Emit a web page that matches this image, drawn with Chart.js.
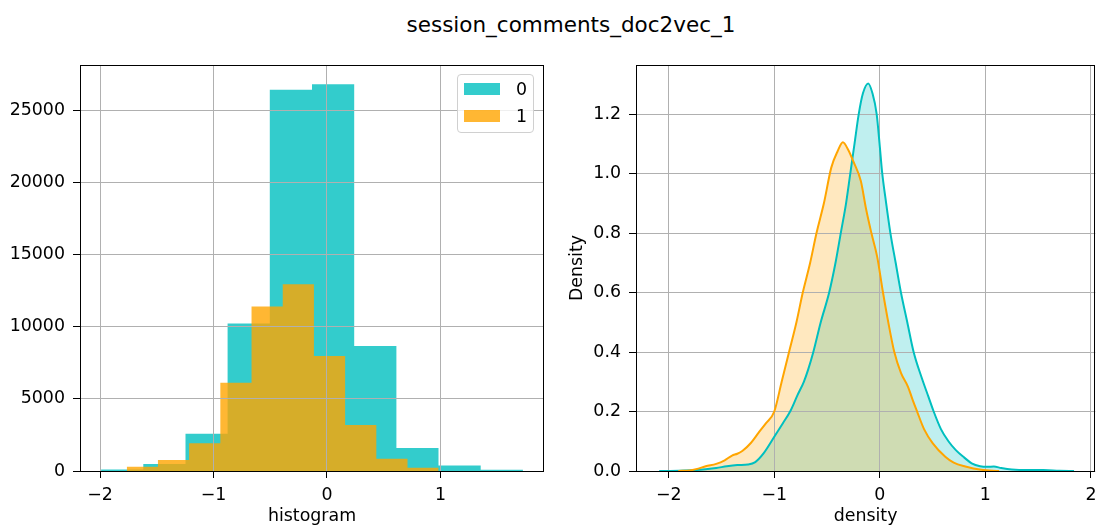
<!DOCTYPE html>
<html lang="en">
<head>
    <meta charset="UTF-8">
    <title>session_comments_doc2vec_1</title>
    <script src="https://cdn.jsdelivr.net/npm/chart.js@4.4.1/dist/chart.umd.min.js"></script>
    <style>
        body {
            margin: 0;
            background: #fff;
            font-family: 'DejaVu Sans', sans-serif;
        }
        #page {
            position: relative;
            width: 1104px;
            height: 529px;
            overflow: hidden;
        }
        #figTitle {
            position: absolute;
            left: 371px;
            width: 400px;
            top: 14px;
            text-align: center;
            font-size: 21.5px;
            line-height: 21px;
            color: #000;
        }
        canvas {
            position: absolute;
            top: 0;
        }
        #histChart { left: 0; }
        #densityChart { left: 552px; }
        #legend {
            position: absolute;
            left: 457px;
            top: 74px;
            width: 77px;
            height: 59px;
            border: 1px solid #d0d0d0;
            border-radius: 4px;
            background: rgba(255, 255, 255, 0.8);
            box-sizing: border-box;
        }
        .legend-row {
            position: absolute;
            left: 6px;
            height: 13px;
        }
        .legend-row span.swatch {
            position: absolute;
            left: 0;
            top: 0;
            width: 36px;
            height: 12px;
        }
        .legend-row span.label {
            position: absolute;
            left: 52px;
            top: -4px;
            font-size: 17.4px;
            line-height: 20px;
            color: #000;
        }
    </style>
</head>
<body>
<div id="page">
    <div id="figTitle">session_comments_doc2vec_1</div>
    <canvas id="histChart" width="552" height="529"></canvas>
    <canvas id="densityChart" width="552" height="529"></canvas>
    <div id="legend"></div>
</div>

<script>
    // Group labels and colours
    const groupLabels = ['0', '1'];
    const groupColors = ['rgb(0, 191, 191)', 'rgb(255, 165, 0)'];

    // Histogram bin edges and counts, one pair per group
    const binEdges0 = [-1.991, -1.619, -1.247, -0.876, -0.504, -0.132, 0.240, 0.612, 0.983, 1.355, 1.727];
    const binCounts0 = [100, 480, 2580, 10240, 26470, 26840, 8680, 1590, 390, 90];
    const binEdges1 = [-1.765, -1.490, -1.215, -0.940, -0.665, -0.390, -0.115, 0.160, 0.435, 0.710, 0.984];
    const binCounts1 = [300, 760, 1930, 6120, 11420, 12960, 7990, 3200, 850, 230];

    // Kernel density estimates per group
    const kdeX0 = [-2.09, -1.90, -1.75, -1.65, -1.55, -1.45, -1.35, -1.25, -1.18, -1.10, -1.00, -0.92, -0.85,
        -0.78, -0.72, -0.68, -0.63, -0.56, -0.48, -0.42, -0.37, -0.32, -0.28, -0.24, -0.20, -0.16, -0.11,
        -0.07, -0.03, 0.00, 0.02, 0.06, 0.10, 0.15, 0.20, 0.26, 0.32, 0.40, 0.46, 0.51, 0.58, 0.65, 0.72,
        0.80, 0.87, 0.95, 1.02, 1.08, 1.15, 1.25, 1.40, 1.55, 1.70, 1.84];
    const kdeY0 = [0.000, 0.001, 0.003, 0.006, 0.010, 0.016, 0.020, 0.022, 0.030, 0.060, 0.115, 0.160, 0.200,
        0.255, 0.300, 0.340, 0.400, 0.500, 0.600, 0.700, 0.800, 0.900, 1.000, 1.100, 1.200, 1.270, 1.303,
        1.270, 1.200, 1.090, 1.010, 0.900, 0.800, 0.700, 0.600, 0.500, 0.400, 0.310, 0.250, 0.200, 0.140,
        0.100, 0.070, 0.045, 0.026, 0.016, 0.014, 0.015, 0.010, 0.005, 0.003, 0.003, 0.001, 0.000];
    const kdeX1 = [-1.91, -1.80, -1.72, -1.65, -1.55, -1.47, -1.40, -1.35, -1.30, -1.22, -1.15, -1.08, -1.00,
        -0.93, -0.86, -0.79, -0.73, -0.66, -0.60, -0.53, -0.46, -0.40, -0.35, -0.30, -0.25, -0.18, -0.13,
        -0.08, -0.025, 0.03, 0.08, 0.137, 0.20, 0.267, 0.31, 0.353, 0.42, 0.50, 0.62, 0.70, 0.81, 0.96, 1.13];
    const kdeY1 = [0.000, 0.002, 0.008, 0.016, 0.024, 0.036, 0.052, 0.058, 0.068, 0.095, 0.128, 0.160, 0.200,
        0.300, 0.400, 0.500, 0.600, 0.700, 0.800, 0.900, 1.020, 1.075, 1.105, 1.080, 1.040, 0.975, 0.880,
        0.800, 0.720, 0.600, 0.500, 0.400, 0.330, 0.283, 0.240, 0.200, 0.140, 0.094, 0.048, 0.028, 0.015,
        0.004, 0.000];

    // Tick values
    const histXTicks = [-2, -1, 0, 1];
    const histYTicks = [0, 5000, 10000, 15000, 20000, 25000];
    const densityXTicks = [-2, -1, 0, 1, 2];
    const densityYTicks = [0, 0.2, 0.4, 0.6, 0.8, 1.0, 1.2];

    const tickFont = { family: 'DejaVu Sans', size: 17.4 };
    const minus = v => String(v).replace('-', '\u2212');

    function withAlpha(rgb, a) {
        return rgb.replace('rgb(', 'rgba(').replace(')', ', ' + a + ')');
    }

    // Step outline of a histogram: each bar holds its count up to the next edge
    function histPoints(edges, counts) {
        const pts = counts.map((c, i) => ({ x: edges[i], y: c }));
        pts.push({ x: edges[edges.length - 1], y: 0 });
        return pts;
    }

    function kdePoints(xs, ys) {
        return xs.map((x, i) => ({ x: x, y: ys[i] }));
    }

    // Grid goes over the filled areas, the frame over everything
    const gridAndFrame = {
        id: 'gridAndFrame',
        beforeDatasetsDraw(chart) {
            chart.scales.x.drawGrid(chart.chartArea);
            chart.scales.y.drawGrid(chart.chartArea);
        },
        afterDatasetsDraw(chart) {
            const { ctx, chartArea: a } = chart;
            ctx.save();
            ctx.strokeStyle = '#000';
            ctx.lineWidth = 1;
            ctx.strokeRect(Math.round(a.left) + 0.5, Math.round(a.top) + 0.5,
                Math.round(a.right - a.left) - 1, Math.round(a.bottom - a.top));
            ctx.restore();
        }
    };

    function axis(min, max, tickValues, fmt, size, isX, title) {
        return {
            type: 'linear',
            min: min,
            max: max,
            afterBuildTicks: s => { s.ticks = tickValues.map(v => ({ value: v })); },
            afterFit: s => { if (isX) { s.height = size; } else { s.width = size; } },
            ticks: {
                color: '#000',
                font: tickFont,
                padding: isX ? 7.5 : 8,
                maxRotation: 0,
                autoSkip: false,
                callback: fmt
            },
            grid: {
                color: '#b0b0b0',
                lineWidth: 1,
                tickLength: 7,
                tickColor: '#000',
                tickWidth: 1
            },
            border: { display: false },
            title: title
        };
    }

    function baseOptions(scales, padRight) {
        return {
            responsive: false,
            animation: false,
            devicePixelRatio: 1,
            layout: { padding: { top: 65, right: padRight, bottom: 0, left: 0 } },
            plugins: {
                legend: { display: false },
                tooltip: { enabled: false },
                filler: { drawTime: 'beforeDatasetsDraw' }
            },
            elements: { point: { radius: 0 } },
            scales: scales
        };
    }

    // Left: overlapping histograms
    new Chart(document.getElementById('histChart'), {
        type: 'line',
        data: {
            datasets: [
                {
                    label: groupLabels[0],
                    data: histPoints(binEdges0, binCounts0),
                    stepped: 'before',
                    borderWidth: 0,
                    borderColor: 'rgba(0,0,0,0)',
                    backgroundColor: withAlpha(groupColors[0], 0.8),
                    fill: 'origin',
                    order: 2
                },
                {
                    label: groupLabels[1],
                    data: histPoints(binEdges1, binCounts1),
                    stepped: 'before',
                    borderWidth: 0,
                    borderColor: 'rgba(0,0,0,0)',
                    backgroundColor: withAlpha(groupColors[1], 0.8),
                    fill: 'origin',
                    order: 1
                }
            ]
        },
        options: baseOptions({
            x: axis(-2.177, 1.913, histXTicks, minus, 58, true, {
                display: true, text: 'histogram', color: '#000', font: tickFont, padding: { top: 0, bottom: 2.3 }
            }),
            y: axis(0, 28182, histYTicks, v => String(v), 80, false, { display: false })
        }, 8),
        plugins: [gridAndFrame]
    });

    // Right: kernel density estimates
    const densitySets = [];
    [[kdeX0, kdeY0], [kdeX1, kdeY1]].forEach(([xs, ys], i) => {
        densitySets.push({
            label: groupLabels[i],
            data: kdePoints(xs, ys),
            borderColor: groupColors[i],
            borderWidth: 2,
            backgroundColor: withAlpha(groupColors[i], 0.25),
            fill: 'origin',
            cubicInterpolationMode: 'monotone',
            order: 2 - i
        });
    });

    new Chart(document.getElementById('densityChart'), {
        type: 'line',
        data: { datasets: densitySets },
        options: baseOptions({
            x: axis(-2.31, 2.04, densityXTicks, minus, 58, true, {
                display: true, text: 'density', color: '#000', font: tickFont, padding: { top: 0, bottom: 2.3 }
            }),
            y: axis(0, 1.365, densityYTicks, v => v.toFixed(1), 84, false, {
                display: true, text: 'Density', color: '#000', font: tickFont, padding: { top: 15.5, bottom: 0 }
            })
        }, 2),
        plugins: [gridAndFrame]
    });

    // Legend box inside the histogram axes
    const legend = document.getElementById('legend');
    groupLabels.forEach((lab, i) => {
        const row = document.createElement('div');
        row.className = 'legend-row';
        row.style.top = (8 + i * 26.5) + 'px';
        row.innerHTML = '<span class="swatch" style="background:' + withAlpha(groupColors[i], 0.8) +
            '"></span><span class="label">' + lab + '</span>';
        legend.appendChild(row);
    });
</script>
</body>
</html>
